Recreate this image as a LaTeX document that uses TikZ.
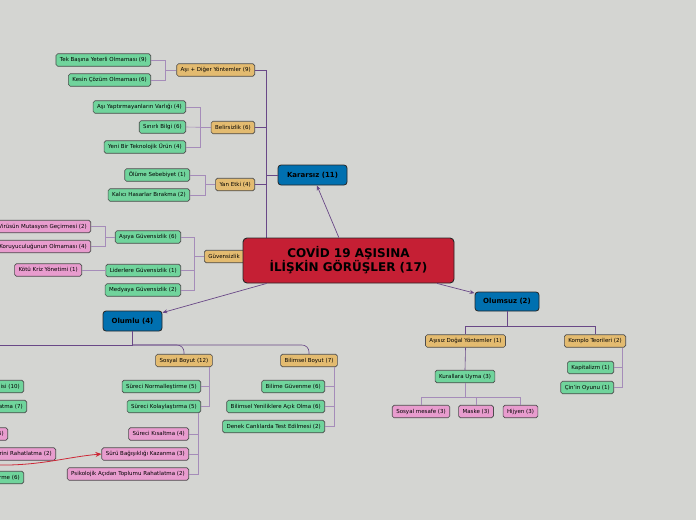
\documentclass[tikz,border=0pt]{standalone}
\usepackage{fontspec}
\setmainfont{DejaVu Sans}
\usetikzlibrary{arrows.meta}
\definecolor{bgcol}{RGB}{212,213,210}
\definecolor{rootred}{RGB}{197,31,52}
\definecolor{topicblue}{RGB}{0,112,176}
\definecolor{catorange}{RGB}{227,187,112}
\definecolor{leafgreen}{RGB}{112,212,156}
\definecolor{leafpink}{RGB}{232,156,206}
\definecolor{linkpurple}{RGB}{105,72,135}
\definecolor{linklight}{RGB}{165,140,185}
\definecolor{arrowred}{RGB}{205,40,55}

\begin{document}
\begin{tikzpicture}
    [x=1pt, y=-1pt,
     nodebox/.style={draw=black!70, line width=0.6pt, rounded corners=1.8pt,
        font=\fontsize{5.5}{6.5}\selectfont, minimum height=12.5pt, inner xsep=4pt, inner ysep=2pt},
     leafbox/.style={nodebox, fill=leafgreen},
     pinkbox/.style={nodebox, fill=leafpink},
     catbox/.style={nodebox, fill=catorange},
     cutbox/.style={text width=70pt, align=right},
     topicbox/.style={draw=black!85, line width=0.8pt, rounded corners=3pt, fill=topicblue,
        font=\bfseries\fontsize{7}{8}\selectfont, minimum height=20pt},
     rootbox/.style={draw=black!85, line width=0.9pt, rounded corners=4pt, fill=rootred,
        font=\bfseries\fontsize{12}{14}\selectfont, align=center,
        minimum width=211pt, minimum height=45pt},
     link/.style={draw=linkpurple, line width=0.6pt},
     bracket/.style={draw=linklight, line width=0.6pt},
     arr/.style={draw=linkpurple, line width=0.7pt, -{Stealth[length=5pt,width=4pt]}}]
    \fill[bgcol] (0,0) rectangle (696,520);
    \useasboundingbox (0,0) rectangle (696,520);

    % main topics
    \node (kararsiz) at (312.5,175) [topicbox, minimum width=69pt] {Kararsız (11)};
    \node (olumlu) at (132.5,321) [topicbox, minimum width=59pt] {Olumlu (4)};
    \node (olumsuz) at (507,301.5) [topicbox, minimum width=64pt, minimum height=19pt] {Olumsuz (2)};

    % Kararsiz
    \node (asidiger) at (255,70) [catbox, anchor=east] {Aşı + Diğer Yöntemler (9)};
    \node (tek) at (151,60) [leafbox, anchor=east] {Tek Başına Yeterli Olmaması (9)};
    \node (kesin) at (151,80) [leafbox, anchor=east] {Kesin Çözüm Olmaması (6)};
    \node (belirsiz) at (255,127.5) [catbox, anchor=east] {Belirsizlik (6)};
    \node (asiyap) at (186,107) [leafbox, anchor=east] {Aşı Yaptırmayanların Varlığı (4)};
    \node (sinirli) at (186,127) [leafbox, anchor=east] {Sınırlı Bilgi (6)};
    \node (yeni) at (186,147) [leafbox, anchor=east] {Yeni Bir Teknolojik Ürün (4)};
    \node (yanetki) at (255,184.5) [catbox, anchor=east] {Yan Etki (4)};
    \node (olume) at (190,175) [leafbox, anchor=east] {Ölüme Sebebiyet (1)};
    \node (kalici) at (190,195) [leafbox, anchor=east] {Kalıcı Hasarlar Bırakma (2)};
    \node (guven) at (204,256.5) [catbox, anchor=west, text width=38pt, align=left] {Güvensizlik};
    \node (asiya) at (181,237) [leafbox, anchor=east] {Aşıya Güvensizlik (6)};
    \node (lider) at (181,270.5) [leafbox, anchor=east] {Liderlere Güvensizlik (1)};
    \node (medya) at (181,290) [leafbox, anchor=east] {Medyaya Güvensizlik (2)};
    \node (virus) at (91,226.5) [pinkbox, cutbox, anchor=east, text width=100pt] {Virüsün Mutasyon Geçirmesi (2)};
    \node (koruy) at (91,246.5) [pinkbox, cutbox, anchor=east, text width=100pt] {Koruyuculuğunun Olmaması (4)};
    \node (kotu) at (82,270) [pinkbox, anchor=east] {Kötü Kriz Yönetimi (1)};

    \draw[bracket] (tek.east) -| ([xshift=-11pt]asidiger.west) -- (asidiger.west);
    \draw[bracket] (kesin.east) -| ([xshift=-11pt]asidiger.west);
    \draw[bracket] (asiyap.east) -| ([xshift=-11pt]belirsiz.west) -- (belirsiz.west);
    \draw[bracket] (sinirli.east) -- (belirsiz.west);
    \draw[bracket] (yeni.east) -| ([xshift=-11pt]belirsiz.west);
    \draw[bracket] (olume.east) -| ([xshift=-10pt]yanetki.west) -- (yanetki.west);
    \draw[bracket] (kalici.east) -| ([xshift=-10pt]yanetki.west);
    \draw[bracket] (asiya.east) -| ([xshift=-10pt]guven.west) -- (guven.west);
    \draw[bracket] (lider.east) -| ([xshift=-10pt]guven.west);
    \draw[bracket] (medya.east) -| ([xshift=-10pt]guven.west);
    \draw[bracket] (virus.east) -| ([xshift=-10pt]asiya.west) -- (asiya.west);
    \draw[bracket] (koruy.east) -| ([xshift=-10pt]asiya.west);
    \draw[bracket] (kotu.east) -- (kotu.east -| lider.west);

    \draw[link] (asidiger.east) -| ([xshift=-11pt]kararsiz.west) -- (kararsiz.west);
    \draw[link] (belirsiz.east) -| ([xshift=-11pt]kararsiz.west);
    \draw[link] (yanetki.east) -| ([xshift=-11pt]kararsiz.west);
    \draw[link] (guven.east) -| ([xshift=-11pt]kararsiz.west);

    % Olumsuz
    \node (asisiz) at (465.5,341) [catbox] {Aşısız Doğal Yöntemler (1)};
    \node (komplo) at (595,341) [catbox] {Komplo Teorileri (2)};
    \node (kural) at (465,376.5) [leafbox] {Kurallara Uyma (3)};
    \node (sosmes) at (421,411.5) [pinkbox] {Sosyal mesafe (3)};
    \node (maske) at (476,411.5) [pinkbox] {Maske (3)};
    \node (hijyen) at (520.5,411.5) [pinkbox] {Hijyen (3)};
    \node (kapit) at (614,367.5) [leafbox, anchor=east] {Kapitalizm (1)};
    \node (cin) at (614,387.5) [leafbox, anchor=east] {Çin'in Oyunu (1)};

    \draw[link] (olumsuz.south) -- ++(0,15) -| (asisiz.north);
    \draw[link] (olumsuz.south) -- ++(0,15) -| (komplo.north);
    \draw[link] (asisiz.south) -- (kural.north);
    \draw[bracket] (kural.south) -- ++(0,14) -| (sosmes.north);
    \draw[bracket] (kural.south) -- ++(0,14) -| (maske.north);
    \draw[bracket] (kural.south) -- ++(0,14) -| (hijyen.north);
    \draw[bracket] (kapit.east) -| ([xshift=-4pt]komplo.south east);
    \draw[bracket] (cin.east) -| ([xshift=-4pt]komplo.south east);

    % Olumlu
    \node (sosyal) at (184,360.5) [catbox] {Sosyal Boyut (12)};
    \node (bilimsel) at (309,360.5) [catbox] {Bilimsel Boyut (7)};
    \node (snorm) at (201,386.5) [leafbox, anchor=east] {Süreci Normalleştirme (5)};
    \node (skolay) at (201,406.5) [leafbox, anchor=east] {Süreci Kolaylaştırma (5)};
    \node (skisa) at (189,434) [pinkbox, anchor=east] {Süreci Kısaltma (4)};
    \node (surubag) at (189,454) [pinkbox, anchor=east] {Sürü Bağışıklığı Kazanma (3)};
    \node (psiko) at (189,474) [pinkbox, anchor=east] {Psikolojik Açıdan Toplumu Rahatlatma (2)};
    \node (bilime) at (325,386.5) [leafbox, anchor=east] {Bilime Güvenme (6)};
    \node (yenilik) at (325,406.5) [leafbox, anchor=east] {Bilimsel Yeniliklere Açık Olma (6)};
    \node (denek) at (325,426.5) [leafbox, anchor=east] {Denek Canlılarda Test Edilmesi (2)};
    \node (ekisi) at (24,386.5) [leafbox, cutbox, anchor=east] {isi (10)};
    \node (latma) at (27,406.5) [leafbox, cutbox, anchor=east] {atma (7)};
    \node (bes) at (8,434) [pinkbox, cutbox, anchor=east] {5)};
    \node (rahat) at (56,454) [pinkbox, cutbox, anchor=east] {rini Rahatlatma (2)};
    \node (rme) at (24,477.5) [leafbox, cutbox, anchor=east] {rme (6)};
    \coordinate (olumluleft) at (-5,345);
    \coordinate (redstart) at (-5,465);

    \draw[link] (olumlu.south) -- (olumlu.south |- olumluleft) -- (olumluleft);
    \draw[link, rounded corners=7pt] (olumlu.south |- olumluleft) -| (sosyal.north);
    \draw[link, rounded corners=7pt] (olumlu.south |- olumluleft) -| (bilimsel.north);
    \draw[bracket] (snorm.east) -| ([xshift=-3pt]sosyal.south east);
    \draw[bracket] (skolay.east) -| ([xshift=-3pt]sosyal.south east);
    \draw[bracket] (skisa.east) -| ([xshift=-3pt]skolay.south east);
    \draw[bracket] (surubag.east) -| ([xshift=-3pt]skolay.south east);
    \draw[bracket] (psiko.east) -| ([xshift=-3pt]skolay.south east);
    \draw[bracket] (bilime.east) -| ([xshift=-3pt]bilimsel.south east);
    \draw[bracket] (yenilik.east) -| ([xshift=-3pt]bilimsel.south east);
    \draw[bracket] (denek.east) -| ([xshift=-3pt]bilimsel.south east);

    \draw[arrowred, line width=0.8pt, -{Stealth[length=6pt,width=5pt]}]
        (redstart) .. controls +(45,1) and +(-35,3) .. (surubag.west);

    % root on top
    \node (covid) at (348.5,260.5) [rootbox] {COVİD 19 AŞISINA\\İLİŞKİN GÖRÜŞLER (17)};
    \draw[arr] (covid) -- (kararsiz);
    \draw[arr] (covid) -- (olumlu);
    \draw[arr] (covid) -- (olumsuz);
\end{tikzpicture}
\end{document}
